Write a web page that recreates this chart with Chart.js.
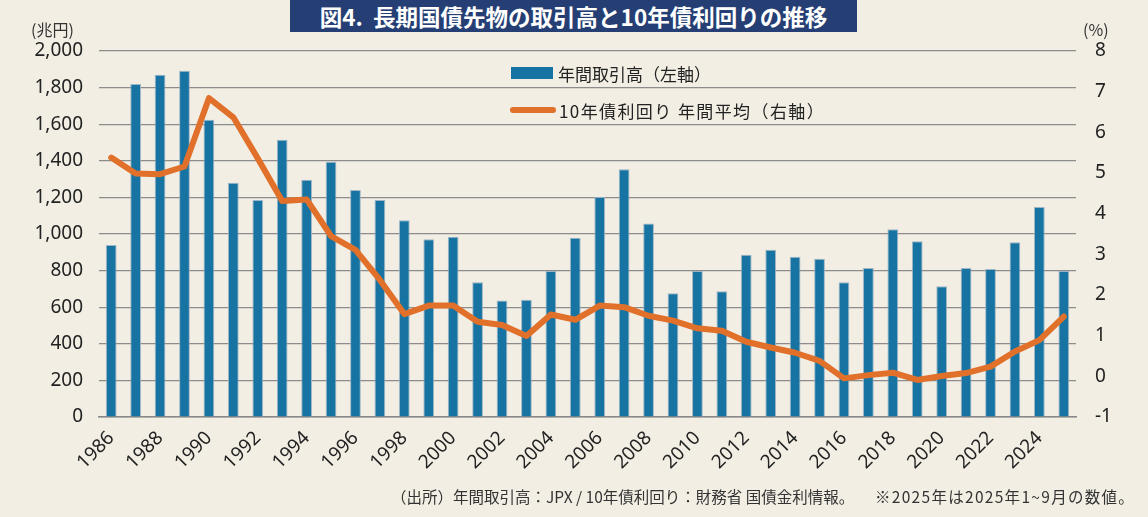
<!DOCTYPE html>
<html lang="ja">
<head>
<meta charset="utf-8">
<script src="https://cdn.jsdelivr.net/npm/chart.js@4"></script>
<style>
  html, body { margin: 0; padding: 0; background: #F2EEE4; }
  body { width: 1148px; height: 517px; position: relative; overflow: hidden;
         font-family: "Noto Sans CJK JP", "Noto Sans", sans-serif; color: #222; }
  #chart { position: absolute; left: 0; top: 0; }
  #title { position: absolute; left: 290px; top: 0; width: 567px; height: 32px;
           background: #253F74; color: #fff; font-weight: bold; font-size: 22.5px;
           line-height: 32px; text-align: center; }
  .unit { position: absolute; top: 17px; font-size: 16px; color: #333; }
  .legend { position: absolute; left: 511px; font-size: 17px; color: #222; }
  .legend span { display: inline-block; vertical-align: middle; }
  .foot { position: absolute; top: 485px; font-size: 15.5px; color: #333; }
</style>
</head>
<body>
<canvas id="chart" width="1148" height="517"></canvas>
<div id="title">図4.&nbsp;&nbsp;長期国債先物の取引高と10年債利回りの推移</div>
<div class="unit" style="left:31px;">(兆円)</div>
<div class="unit" style="left:1083px;">(%)</div>
<div class="legend" style="top:58px;"><span style="width:42px;height:12px;background:#1774A2;margin-right:5px;"></span><span>年間取引高（左軸）</span></div>
<div class="legend" style="top:95px;"><span style="width:46px;height:6px;border-radius:3px;background:#E0702A;margin-right:3px;margin-left:-1px;"></span><span style="letter-spacing:1.4px;">10年債利回り 年間平均（右軸）</span></div>
<div class="foot" style="left:391px;">（出所）年間取引高：JPX / 10年債利回り：財務省 国債金利情報。</div>
<div class="foot" style="left:875px;letter-spacing:1.3px;">※2025年は2025年1~9月の数値。</div>
<script>
const years = [];
for (let y = 1986; y <= 2025; y++) years.push(String(y));

// 年間取引高（兆円）
const volume = [
  940, 1820, 1870, 1892, 1625, 1280, 1186, 1515, 1297, 1395,
  1240, 1186, 1075, 971, 985, 736, 636, 641, 798, 980,
  1202, 1354, 1058, 676, 798, 687, 887, 914, 876, 865,
  736, 814, 1026, 960, 714, 814, 809, 955, 1148, 798
];

// 10年債利回り 年間平均（%）
const yield10 = [
  5.38, 4.99, 4.97, 5.16, 6.84, 6.37, 5.36, 4.31, 4.35, 3.45,
  3.11, 2.37, 1.53, 1.74, 1.74, 1.34, 1.26, 0.99, 1.52, 1.39,
  1.74, 1.70, 1.49, 1.37, 1.18, 1.12, 0.85, 0.71, 0.58, 0.38,
  -0.05, 0.03, 0.09, -0.09, 0.01, 0.08, 0.24, 0.61, 0.89, 1.47
];

const tickFont = { family: '"Noto Sans", "Noto Sans CJK JP", sans-serif', size: 19 };

new Chart(document.getElementById('chart'), {
  type: 'bar',
  data: {
    labels: years,
    datasets: [
      {
        type: 'line',
        label: '10年債利回り 年間平均（右軸）',
        data: yield10,
        yAxisID: 'y1',
        borderColor: '#E0702A',
        borderWidth: 6,
        pointRadius: 0,
        tension: 0,
        borderCapStyle: 'round',
        borderJoinStyle: 'round',
        order: 0
      },
      {
        label: '年間取引高（左軸）',
        data: volume,
        yAxisID: 'y',
        backgroundColor: '#1774A2',
        borderColor: 'rgba(150,175,195,0.9)',
        borderWidth: 1,
        barPercentage: 0.44,
        categoryPercentage: 1,
        order: 1
      }
    ]
  },
  options: {
    responsive: false,
    animation: false,
    devicePixelRatio: 1,
    layout: { padding: { top: 51, left: 0, right: 0, bottom: 0 } },
    plugins: { legend: { display: false }, tooltip: { enabled: false } },
    scales: {
      x: {
        grid: { display: false },
        border: { color: '#888', width: 1.5 },
        ticks: {
          autoSkip: false, maxRotation: 45, minRotation: 45,
          font: tickFont, color: '#222', padding: 2,
          callback: function (v, i) { return i % 2 === 0 ? years[i] : ''; }
        },
        afterFit: function (s) { s.height = 100; }
      },
      y: {
        min: 0, max: 2000,
        ticks: {
          stepSize: 200, font: tickFont, color: '#222', padding: 16,
          callback: v => v.toLocaleString('en-US')
        },
        grid: { color: '#8c8c8c', lineWidth: 1.2, drawTicks: false },
        border: { display: false },
        afterFit: function (s) { s.width = 99; }
      },
      y1: {
        position: 'right',
        min: -1, max: 8,
        ticks: { stepSize: 1, font: tickFont, color: '#222', padding: 11 },
        grid: { display: false },
        border: { display: false },
        afterFit: function (s) { s.width = 72; }
      }
    }
  }
});
</script>
</body>
</html>
